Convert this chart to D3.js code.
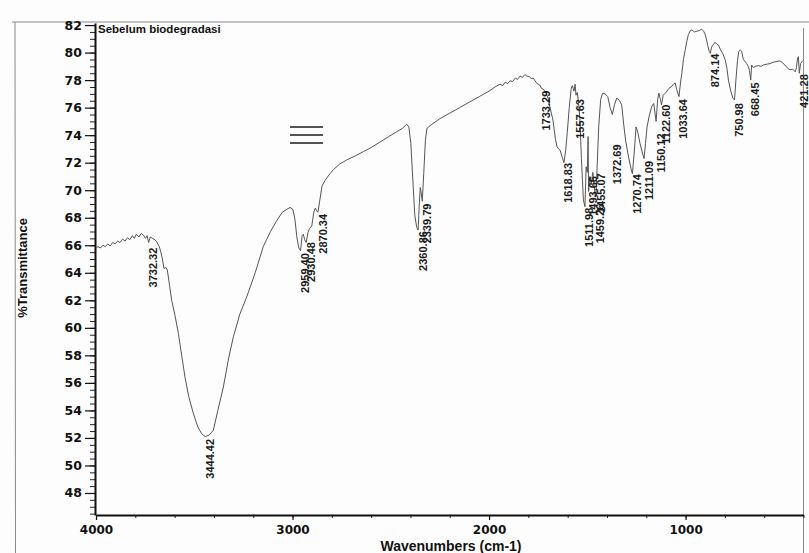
<!DOCTYPE html>
<html><head><meta charset="utf-8">
<script src="https://cdn.jsdelivr.net/npm/d3@7"></script>
<style>html,body{margin:0;padding:0;background:#fdfdfd;} svg{display:block}</style>
</head><body><svg id="c" width="809" height="553"></svg>
<script>
// ---- data ----
const wavenumbers = [4000,3990,3978,3965,3952,3940,3928,3915,3903,3890,3878,3865,3852,3840,3828,3815,3805,3795,3782,3770,3759,3748,3740,3732.32,3724,3712,3700,3691,3678,3670,3662,3654,3645,3637,3626,3615,3598,3581,3564,3547,3528,3505,3482,3462,3444.42,3425,3403,3380,3352,3325,3301,3268,3233,3190,3149,3112,3080,3052,3030,3012,2998,2988,2978,2968,2959.40,2951,2945,2938,2930.48,2922,2914,2902,2892,2884,2877,2870.34,2862,2850,2835,2815,2792,2760,2724,2680,2640,2600,2555,2510,2470,2440,2420,2408,2398,2388,2378,2368,2360.86,2355,2350,2345,2339.79,2332,2324,2316,2290,2250,2200,2150,2100,2050,2000,1970,1944,1930,1918,1905,1893,1880,1866,1855,1842,1830,1818,1808,1795,1785,1775,1762,1750,1742,1733.29,1724,1712,1700,1688,1675,1662,1655,1646,1638,1628,1618.83,1610,1602,1592,1582,1576,1568,1562,1557.63,1551,1545,1538,1530,1520,1511.98,1506,1500,1496,1493.66,1487,1480,1472,1463,1459.5,1455.07,1450,1442,1432,1422,1410,1396,1384,1372.69,1362,1350,1336,1325,1315,1305,1290,1278,1270.74,1262,1252,1243,1232,1220,1211.09,1204,1196,1185,1172,1162,1150.12,1142,1136,1128,1122.60,1114,1100,1085,1070,1062,1053,1045,1033.64,1026,1019,1011,1003,994,986,976,968,955,943,930,918,908,900,893,887,880,874.14,868,858,850,840,833,822,810,799,790,782,770,760,750.98,744,736,730,722,715,706,697,689,681,675,668.45,664,655,646,630,615,604,590,570,555,536,520,510,495,480,468,455,442,436,430,426,421.28,415,405];
const transmittance = [65.8,65.9,65.8,66.0,65.9,66.1,65.95,66.2,66.1,66.3,66.2,66.45,66.3,66.55,66.4,66.7,66.5,66.8,66.6,66.85,66.75,66.5,66.7,66.2,66.6,66.5,66.4,66.25,65.9,65.5,65.0,64.3,64.4,64.2,63.1,62.0,60.9,59.6,58.0,56.4,55.0,53.8,52.8,52.3,52.1,52.2,52.55,54.0,55.7,57.8,59.35,61.0,62.25,64.0,65.9,67.0,67.8,68.4,68.6,68.75,68.6,67.9,66.6,65.8,65.6,66.7,66.8,66.4,66.2,66.9,67.2,67.4,68.4,68.7,68.5,68.4,69.2,70.3,70.7,71.1,71.5,71.9,72.2,72.5,72.8,73.1,73.5,73.9,74.25,74.5,74.8,74.6,73.4,70.8,68.2,67.3,67.1,69.0,70.2,69.8,69.2,71.3,73.6,74.5,74.8,75.2,75.6,76.0,76.4,76.8,77.2,77.5,77.7,77.6,77.85,77.75,77.95,77.9,78.15,78.05,78.3,78.2,78.4,78.3,78.25,78.1,78.15,77.85,77.7,77.65,77.4,77.35,77.1,76.7,75.9,75.1,73.7,73.2,73.0,72.9,72.4,72.0,72.9,74.2,76.0,77.4,77.6,77.2,77.7,76.9,77.1,76.4,75.2,72.3,69.3,68.8,71.7,71.3,73.9,69.9,71.0,70.4,71.3,70.0,69.5,69.8,71.7,74.6,76.6,77.05,77.0,76.8,76.0,75.5,76.2,76.7,76.5,76.2,74.8,73.6,72.4,71.6,71.2,72.6,74.6,74.2,73.4,72.7,72.3,73.4,74.6,75.4,76.1,76.3,75.0,76.6,77.05,76.6,76.2,76.9,77.1,77.4,77.55,77.7,77.8,77.3,76.8,77.8,78.5,79.5,80.1,80.8,81.3,81.6,81.65,81.5,81.55,81.6,81.7,81.55,81.3,80.9,80.5,80.1,79.95,80.4,80.6,80.75,80.6,80.55,80.2,79.9,79.5,78.9,78.0,77.2,76.7,76.56,78.0,79.4,80.05,80.2,80.1,79.5,79.35,79.2,79.0,78.7,78.0,79.1,78.9,79.0,79.05,79.0,79.1,79.15,79.2,79.3,79.35,79.4,79.3,79.1,78.85,78.75,78.8,78.6,78.9,79.6,79.7,78.5,79.2,79.4];

const peakWavenumbers = [3732.32,3444.42,2959.40,2930.48,2870.34,2360.86,2339.79,1733.29,1618.83,1557.63,1511.98,1493.66,1459.26,1455.07,1372.69,1270.74,1211.09,1150.12,1122.60,1033.64,874.14,750.98,668.45,421.28];
const peakLabels = ["3732.32","3444.42","2959.40","2930.48","2870.34","2360.86","2339.79","1733.29","1618.83","1557.63","1511.98","1493.66","1459.26","1455.07","1372.69","1270.74","1211.09","1150.12","1122.60","1033.64","874.14","750.98","668.45","421.28"];
const peakLabelLevels = [65.9,52.0,65.5,66.3,68.35,67.1,69.1,77.3,72.05,76.7,68.8,71.1,69.1,71.3,73.4,71.25,72.2,74.2,76.3,76.7,80.0,76.4,77.9,78.5];

const xTickValues = [4000,3000,2000,1000];
const xMinorTicks = d3.range(4000, 399, -200);
const yTickValues = [48,50,52,54,56,58,60,62,64,66,68,70,72,74,76,78,80,82];
const yMinorTicks = d3.range(46.5, 82.1, 0.5);

const titleText = "Sebelum biodegradasi";
const xTitle = "Wavenumbers (cm-1)";
const yTitle = "%Transmittance";

// ---- drawing ----
const svg = d3.select("#c");
const x = d3.scaleLinear().domain([4000, 400]).range([96, 803.5]);
const y = d3.scaleLinear().domain([46.4, 82.15]).range([515, 23]);

svg.append("rect").attr("width",809).attr("height",553).attr("fill","#fdfdfd");

// scan frame
const frame = svg.append("g").attr("stroke","#8a8a8a").attr("stroke-width",1).attr("fill","none");
frame.append("line").attr("x1",12).attr("x2",809).attr("y1",22).attr("y2",22);
frame.append("line").attr("x1",15).attr("x2",15.5).attr("y1",22).attr("y2",553);
frame.append("line").attr("x1",x(400)).attr("x2",x(400)).attr("y1",28).attr("y2",553);

const tickFont = "DejaVu Sans, sans-serif";

// y minor ticks
svg.append("g").attr("transform","translate(95,0)")
  .call(d3.axisLeft(y).tickValues(yMinorTicks).tickSize(5).tickFormat("").tickSizeOuter(0))
  .call(g => g.select(".domain").remove())
  .call(g => g.selectAll("line").attr("stroke","#222"));
// y axis
svg.append("g").attr("transform","translate(95,0)")
  .call(d3.axisLeft(y).tickValues(yTickValues).tickSize(10).tickPadding(3).tickFormat(d3.format("d")).tickSizeOuter(0))
  .call(g => g.select(".domain").attr("stroke","#111").attr("stroke-width",2))
  .call(g => g.selectAll("line").attr("stroke","#111").attr("stroke-width",1.2))
  .call(g => g.selectAll("text").attr("font-family",tickFont).attr("font-weight","bold").attr("font-size",12.5).attr("fill","#111"));

// x minor ticks
svg.append("g").attr("transform","translate(0,515)")
  .call(d3.axisBottom(x).tickValues(xMinorTicks).tickSize(3).tickFormat("").tickSizeOuter(0))
  .call(g => g.select(".domain").remove())
  .call(g => g.selectAll("line").attr("stroke","#222"));
// x axis
svg.append("g").attr("transform","translate(0,515)")
  .call(d3.axisBottom(x).tickValues(xTickValues).tickSize(5).tickPadding(5).tickFormat(d3.format("d")).tickSizeOuter(0))
  .call(g => g.select(".domain").attr("stroke","#111").attr("stroke-width",2))
  .call(g => g.selectAll("line").attr("stroke","#111").attr("stroke-width",1.2))
  .call(g => g.selectAll("text").attr("font-family",tickFont).attr("font-weight","bold").attr("font-size",12).attr("fill","#111"));

// titles
svg.append("text").attr("x",451).attr("y",551).attr("text-anchor","middle")
  .attr("font-family","Liberation Sans, Arial, sans-serif").attr("font-weight","bold").attr("font-size",14).attr("fill","#111").text(xTitle);
svg.append("text").attr("transform","translate(27,268) rotate(-90)").attr("text-anchor","middle")
  .attr("font-family","Liberation Sans, Arial, sans-serif").attr("font-weight","bold").attr("font-size",13).attr("fill","#111").text(yTitle);
svg.append("text").attr("x",98).attr("y",33)
  .attr("font-family","Liberation Sans, Arial, sans-serif").attr("font-weight","bold").attr("font-size",11.5).attr("fill","#111").text(titleText);

// "≡" mark
const mark = svg.append("g").attr("stroke","#1a1a1a").attr("stroke-width",1.4);
[127,135,143].forEach(v => mark.append("line").attr("x1",290).attr("x2",323).attr("y1",v).attr("y2",v));

// spectrum
const pts = wavenumbers.map((w,i) => [w, transmittance[i]]);
svg.append("path").datum(pts)
  .attr("fill","none").attr("stroke","#555").attr("stroke-width",1)
  .attr("stroke-linejoin","round")
  .attr("d", d3.line().x(d => x(d[0])).y(d => y(d[1])));

// peak labels (read bottom-to-top, top end just under the band)
const peaks = peakWavenumbers.map((w,i) => ({wn:w, label:peakLabels[i], t:peakLabelLevels[i]}));
svg.append("g").selectAll("text").data(peaks).join("text")
  .attr("transform", d => `translate(${x(d.wn)+4.5},${y(d.t)+1}) rotate(-90)`)
  .attr("text-anchor","end")
  .attr("dominant-baseline","central")
  .attr("font-family","Liberation Sans, Arial, sans-serif").attr("font-weight","bold").attr("font-size",11).attr("fill","#1a1a1a")
  .text(d => d.label);
</script></body></html>
